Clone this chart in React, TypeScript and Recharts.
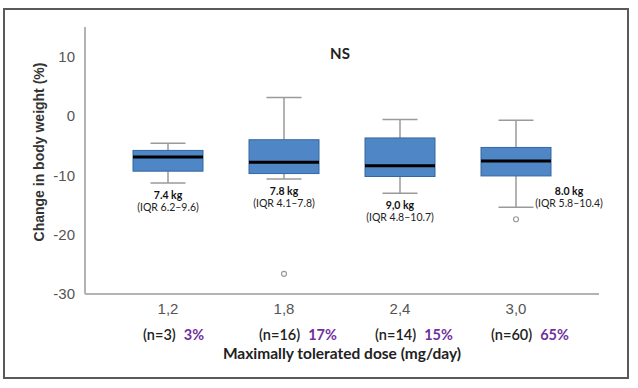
import React from "react"
import { ComposedChart, Bar, XAxis, YAxis } from "recharts"

// values (change in body weight, %)
const doses = ["1,2", "1,8", "2,4", "3,0"]
const whiskerLow = [-11.3, -10.6, -13.0, -15.4]
const q1 = [-9.3, -9.7, -10.2, -10.1]
const median = [-6.9, -7.8, -8.4, -7.6]
const q3 = [-5.8, -4.0, -3.7, -5.3]
const whiskerHigh = [-4.6, 3.1, -0.6, -0.7]
const outliers: (number | null)[] = [null, -26.6, null, -17.4]
const nCounts = [3, 16, 14, 60]
const shares = ["3%", "17%", "15%", "65%"]
const kgLabels = ["7.4 kg", "7.8 kg", "9,0 kg", "8.0 kg"]
const iqrLabels = ["(IQR 6.2–9.6)", "(IQR 4.1–7.8)", "(IQR 4.8–10.7)", "(IQR 5.8–10.4)"]
const yTicks = [-30, -20, -10, 0, 10]

const data = doses.map((dose, i) => ({
  dose,
  range: [whiskerLow[i], whiskerHigh[i]],
  q1: q1[i],
  median: median[i],
  q3: q3[i],
  outlier: outliers[i],
  n: nCounts[i],
  share: shares[i],
  kg: kgLabels[i],
  iqr: iqrLabels[i],
}))

const BOX_FILL = "#4f86c6"
const BOX_STROKE = "#35679f"
const WHISKER = "#9a9a9a"
const NOTE_FONT = "Lato, 'Open Sans', sans-serif"

const BoxShape = (props: any) => {
  const { x, y, width, height, payload, index } = props
  const [lo, hi] = payload.range
  const yOf = (v: number) => y + ((hi - v) * height) / (hi - lo)
  const cx = x + width / 2
  const cap = width / 4
  const top = yOf(payload.q3)
  const bottom = yOf(payload.q1)
  const yLow = yOf(lo)
  const last = index === doses.length - 1
  const lx = last ? cx + 53 : cx
  const ly = last ? yLow - 15 : yLow + 13
  return (
    <g>
      <line x1={cx} x2={cx} y1={yOf(hi)} y2={top} stroke={WHISKER} strokeWidth={1.5} />
      <line x1={cx} x2={cx} y1={bottom} y2={yLow} stroke={WHISKER} strokeWidth={1.5} />
      <line x1={cx - cap} x2={cx + cap} y1={yOf(hi)} y2={yOf(hi)} stroke={WHISKER} strokeWidth={1.5} />
      <line x1={cx - cap} x2={cx + cap} y1={yLow} y2={yLow} stroke={WHISKER} strokeWidth={1.5} />
      <rect x={x} y={top} width={width} height={bottom - top} fill={BOX_FILL} stroke={BOX_STROKE} strokeWidth={1} />
      <line x1={x} x2={x + width} y1={yOf(payload.median)} y2={yOf(payload.median)} stroke="#000" strokeWidth={3} />
      {payload.outlier != null && (
        <circle cx={cx} cy={yOf(payload.outlier)} r={2.5} fill="#fff" stroke={WHISKER} strokeWidth={1.2} />
      )}
      <text x={lx} y={ly} textAnchor="middle" dominantBaseline="middle" fontFamily={NOTE_FONT} fontSize={10.5} fontWeight={700} fill="#111">
        {payload.kg}
      </text>
      <text x={lx} y={ly + 12} textAnchor="middle" dominantBaseline="middle" fontFamily={NOTE_FONT} fontSize={10.5} fill="#222">
        {payload.iqr}
      </text>
    </g>
  )
}

const DoseTick = (props: any) => {
  const { x, y, index } = props
  const row = data[index]
  return (
    <g>
      <text x={x} y={y + 8} textAnchor="middle" dominantBaseline="middle" fontFamily="'Liberation Sans', Arial, sans-serif" fontSize={15} fill="#555">
        {row.dose}
      </text>
      <text x={x - 25} y={y + 34} textAnchor="start" dominantBaseline="middle" fontFamily={NOTE_FONT} fontSize={14.5} fontWeight={600} fill="#222">
        {`(n=${row.n})`}
        <tspan dx={8} fill="#7030a0" fontWeight={700}>{row.share}</tspan>
      </text>
    </g>
  )
}

export default function App() {
  return (
    <div style={{ position: "absolute", left: 0, top: 0, width: 638, height: 388, background: "#fff" }}>
      <div
        style={{
          position: "absolute",
          left: 3,
          top: 8,
          width: 622,
          height: 367,
          border: "2px solid #5a5a5a",
          boxSizing: "content-box",
        }}
      />
      <div
        style={{
          position: "absolute",
          left: 320,
          top: 44,
          width: 40,
          textAlign: "center",
          fontFamily: NOTE_FONT,
          fontWeight: 700,
          fontSize: 15,
          color: "#222",
        }}
      >
        NS
      </div>
      <div style={{ position: "absolute", left: 0, top: 0 }}>
        <ComposedChart width={638} height={388} data={data} margin={{ top: 27, right: 39, left: 45, bottom: 64 }}>
          <XAxis
            dataKey="dose"
            height={30}
            padding={{ left: 25, right: 25 }}
            tickLine={false}
            axisLine={{ stroke: "#b3b3b3", strokeWidth: 2 }}
            tick={<DoseTick />}
            interval={0}
            label={{
              content: (p: any) => (
                <text
                  x={p.viewBox.x + p.viewBox.width / 2}
                  y={355}
                  textAnchor="middle"
                  dominantBaseline="middle"
                  fontFamily={NOTE_FONT}
                  fontSize={15.5}
                  fontWeight={700}
                  fill="#222"
                >
                  Maximally tolerated dose (mg/day)
                </text>
              ),
            }}
          />
          <YAxis
            width={40}
            domain={[-30, 15]}
            ticks={yTicks}
            tickLine={false}
            axisLine={{ stroke: "#b3b3b3", strokeWidth: 2 }}
            tick={{ fill: "#555", fontSize: 15, fontFamily: "'Liberation Sans', Arial, sans-serif" }}
            tickMargin={4}
            label={{
              content: () => (
                <text
                  x={40}
                  y={152}
                  transform="rotate(-90 40 152)"
                  textAnchor="middle"
                  dominantBaseline="middle"
                  fontFamily="'Liberation Sans', Arial, sans-serif"
                  fontSize={14}
                  fontWeight={700}
                  fill="#333"
                >
                  Change in body weight (%)
                </text>
              ),
            }}
          />
          <Bar dataKey="range" barSize={70} shape={<BoxShape />} isAnimationActive={false} />
        </ComposedChart>
      </div>
    </div>
  )
}
